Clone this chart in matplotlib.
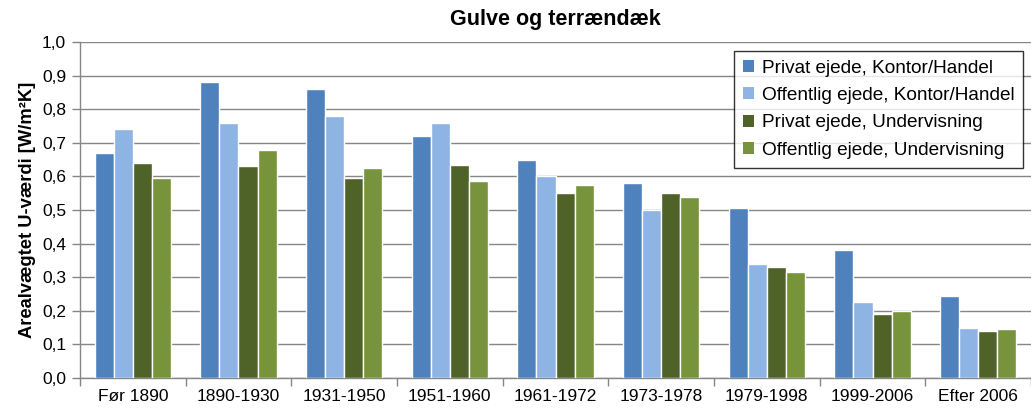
import matplotlib.pyplot as plt
import numpy as np
from matplotlib.ticker import FuncFormatter

perioder = ["Før 1890", "1890-1930", "1931-1950", "1951-1960", "1961-1972",
            "1973-1978", "1979-1998", "1999-2006", "Efter 2006"]
privat_kontor = [0.67, 0.88, 0.86, 0.72, 0.65, 0.58, 0.505, 0.38, 0.245]
offentlig_kontor = [0.74, 0.76, 0.78, 0.76, 0.60, 0.50, 0.34, 0.225, 0.15]
privat_underv = [0.64, 0.63, 0.595, 0.635, 0.55, 0.55, 0.33, 0.19, 0.14]
offentlig_underv = [0.595, 0.68, 0.625, 0.585, 0.575, 0.54, 0.315, 0.20, 0.145]

serier = [
    ("Privat ejede, Kontor/Handel", privat_kontor, "#4F81BD"),
    ("Offentlig ejede, Kontor/Handel", offentlig_kontor, "#8EB4E3"),
    ("Privat ejede, Undervisning", privat_underv, "#4F6228"),
    ("Offentlig ejede, Undervisning", offentlig_underv, "#77933C"),
]

plt.rcParams['font.family'] = ['Liberation Sans', 'DejaVu Sans']

fig = plt.figure(figsize=(10.31, 4.16), dpi=100)
ax = fig.add_axes([80 / 1031, 38 / 416, 951 / 1031, 336 / 416])

x = np.arange(len(perioder))
w = 0.18
for i, (navn, vals, farve) in enumerate(serier):
    ax.bar(x + (i - 1.5) * w, vals, width=w, color=farve, edgecolor="white",
           linewidth=1.0, label=navn, zorder=3)

ax.set_ylim(0, 1.0)
ax.set_xlim(-0.5, 8.47)
ax.set_yticks(np.arange(0, 1.01, 0.1))
ax.yaxis.set_major_formatter(FuncFormatter(lambda v, p: f"{v:.1f}".replace(".", ",")))
ax.set_xticks(x)
ax.set_xticklabels(perioder)
ax.set_xticks(np.arange(-0.5, 9, 1), minor=True)
ax.tick_params(axis="x", which="major", length=0, pad=8, labelsize=12.5)
ax.tick_params(axis="x", which="minor", length=6, color="#868686", width=1)
ax.tick_params(axis="y", length=6, color="#868686", width=1, labelsize=12.5, pad=4)

ax.yaxis.grid(True, color="#868686", linewidth=1, zorder=0)
ax.set_axisbelow(True)
for s in ["top", "right"]:
    ax.spines[s].set_visible(False)
for s in ["left", "bottom"]:
    ax.spines[s].set_color("#868686")
    ax.spines[s].set_linewidth(1)

ax.set_ylabel("Arealvægtet U-værdi [W/m²K]", fontsize=13.2, fontweight="bold", labelpad=4)
fig.text(555 / 1031, 1 - 20 / 416, "Gulve og terrændæk", ha="center", va="center",
         fontsize=15.5, fontweight="bold")

leg = ax.legend(loc="upper right", bbox_to_anchor=(943 / 951, 1 - 9 / 336),
                fontsize=13.7, frameon=True, fancybox=False, handlelength=0.6,
                handleheight=0.6, handletextpad=0.4, borderpad=0.45, labelspacing=0.55,
                borderaxespad=0)
leg.get_frame().set_edgecolor("black")
leg.get_frame().set_linewidth(1)
for h in leg.legend_handles:
    h.set_edgecolor("none")

fig.savefig("out.png", dpi=100)
